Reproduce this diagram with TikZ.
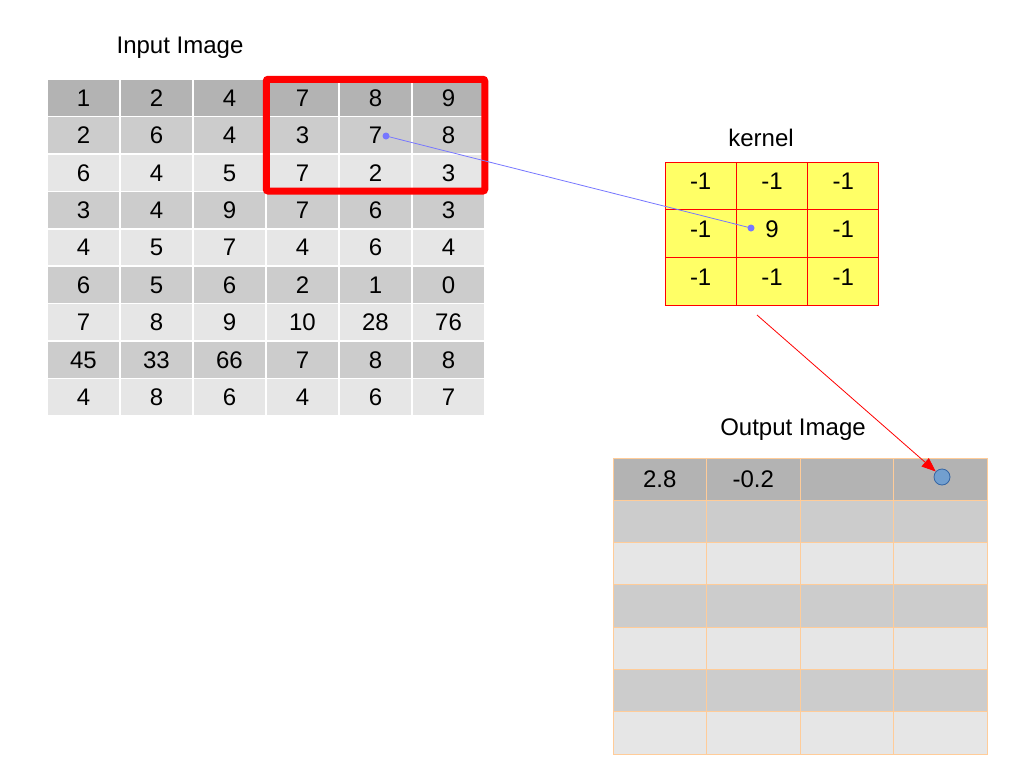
\documentclass[tikz,border=0pt]{standalone}
\usepackage{fontspec}
\setmainfont{Liberation Sans}
\usetikzlibrary{fit,arrows.meta}
\definecolor{gA}{HTML}{B3B3B3}
\definecolor{gB}{HTML}{CCCCCC}
\definecolor{gC}{HTML}{E6E6E6}
\definecolor{kfill}{HTML}{FFFF66}
\definecolor{oline}{HTML}{FFCC99}
\definecolor{bline}{HTML}{7777FF}
\definecolor{dotfill}{HTML}{729FCF}
\definecolor{dotline}{HTML}{3465A4}
\begin{document}
\begin{tikzpicture}[x=1pt,y=-1pt,
  lbl/.style={font=\fontsize{24}{28}\selectfont},
  incell/.style={rectangle, draw=white, line width=1.5pt, minimum width=73pt, minimum height=37.44pt, inner sep=0pt, text height=17pt, text depth=0pt, lbl},
  kcell/.style={rectangle, draw=red, fill=kfill, line width=1pt, minimum width=71.33pt, minimum height=47.67pt, inner sep=0pt, text height=17pt, text depth=9pt, lbl},
  ocell/.style={rectangle, draw=oline, line width=1pt, minimum width=93.5pt, minimum height=42.3pt, inner sep=0pt, text height=17pt, text depth=0pt, lbl},
  bdot/.style={circle, fill=bline, minimum size=7pt, inner sep=0pt},
]
\useasboundingbox[fill=white] (0,0) rectangle (1018,766);

% titles
\node[lbl] (tin) at (180,48) {Input Image};
\node[lbl] (tk) at (761,138) {kernel};
\node[lbl] (tout) at (793,430) {Output Image};

% input image
\foreach \row [count=\r] in {{1,2,4,7,8,9},{2,6,4,3,7,8},{6,4,5,7,2,3},{3,4,9,7,6,3},{4,5,7,4,6,4},{6,5,6,2,1,0},{7,8,9,10,28,76},{45,33,66,7,8,8},{4,8,6,4,6,7}} {
  \foreach \v [count=\c] in \row {
    \ifnum\r=1 \def\fc{gA}\else\ifodd\r \def\fc{gC}\else\def\fc{gB}\fi\fi
    \node[incell, fill=\fc] (in-\r-\c) at ({47+73*(\c-0.5)},{79+37.44*(\r-0.5)}) {\v};
  }
}

% red window
\node[fit=(in-1-4)(in-3-6), inner sep=-1pt, draw=red, line width=7pt, rounded corners=2pt] (win) {};

% kernel
\foreach \row [count=\r] in {{-1,-1,-1},{-1,9,-1},{-1,-1,-1}} {
  \foreach \v [count=\c] in \row {
    \node[kcell] (k-\r-\c) at ({665+71.33*(\c-0.5)},{162+47.67*(\r-0.5)}) {\v};
  }
}

% output image
\foreach \row [count=\r] in {{2.8,-0.2,{},{}},{{},{},{},{}},{{},{},{},{}},{{},{},{},{}},{{},{},{},{}},{{},{},{},{}},{{},{},{},{}}} {
  \foreach \v [count=\c] in \row {
    \ifnum\r=1 \def\fc{gA}\else\ifodd\r \def\fc{gC}\else\def\fc{gB}\fi\fi
    \node[ocell, fill=\fc] (out-\r-\c) at ({613+93.5*(\c-0.5)},{458+42.3*(\r-0.5)}) {\v};
  }
}

% connectors
\node[bdot] (bs) at (386,136) {};
\node[bdot] (be) at (751,228) {};
\draw[bline, line width=0.8pt] (bs.center) -- (be.center);

\node[circle, draw=dotline, fill=dotfill, minimum size=16pt, inner sep=0pt, line width=0.8pt] (dot) at (942,477) {};
\coordinate (ka) at (757,315);
\draw[red, line width=0.8pt, -{Triangle[length=14pt,width=11pt]}] (ka) -- (dot);
\end{tikzpicture}
\end{document}
